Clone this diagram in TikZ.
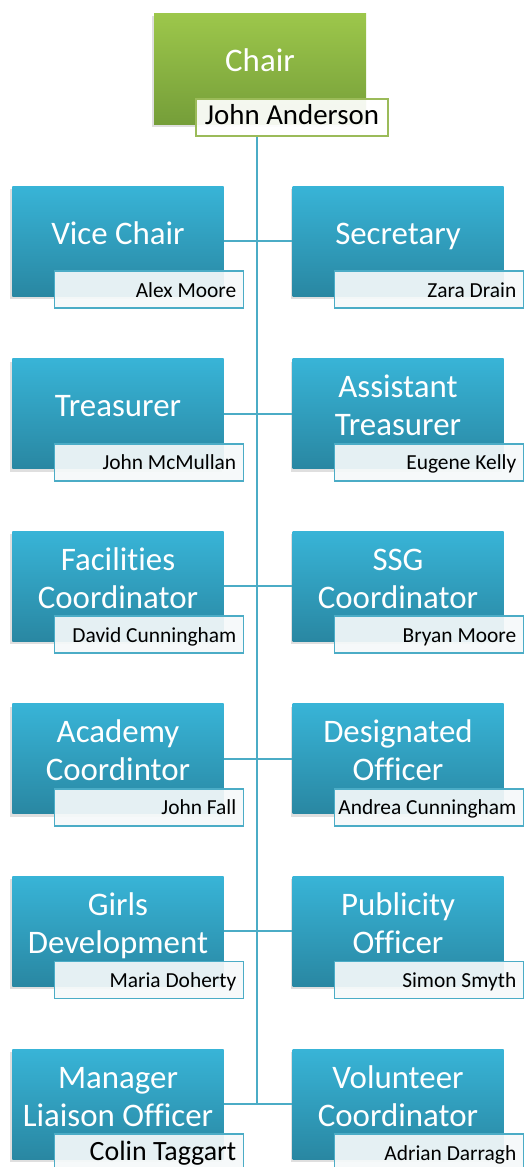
\documentclass[tikz,border=0pt]{standalone}
\usepackage{fontspec}
\setmainfont{Carlito}[Ligatures=CommonOff]
\usetikzlibrary{shadows}
\definecolor{bluetop}{RGB}{56,180,215}
\definecolor{bluebot}{RGB}{41,135,162}
\definecolor{greentop}{RGB}{157,199,75}
\definecolor{greenbot}{RGB}{117,158,57}
\definecolor{accentblue}{RGB}{75,172,198}
\definecolor{accentgreen}{RGB}{155,187,89}
\definecolor{namefill}{RGB}{245,249,250}
\tikzset{
  rolebox/.style={minimum width=211bp, minimum height=110bp, inner sep=0pt,
    top color=bluetop, bottom color=bluebot, draw=none,
    drop shadow={shadow xshift=-2bp, shadow yshift=-3bp, opacity=.25}},
  chairbox/.style={rolebox, minimum width=212bp, minimum height=111bp,
    top color=greentop, bottom color=greenbot},
  namebox/.style={minimum width=189bp, minimum height=37bp, inner sep=0pt,
    draw=accentblue, line width=1.8bp, fill=namefill, fill opacity=.92},
  chairname/.style={namebox, minimum width=192bp, draw=accentgreen, fill=white},
  titletext/.style={text=white, font=\fontsize{33}{38}\selectfont, inner sep=0pt},
  persontext/.style={text=black, font=\fontsize{21.5}{24}\selectfont, inner sep=0pt},
  link/.style={draw=accentblue, line width=2bp},
}
% one-line title
\newcommand\roleA[5]{%
  \node[rolebox] (#1) at ({#2+105.5},{#3+55}) {};
  \node[titletext, anchor=base] (#1t) at ({#2+105.5},{#3+58}) {#4};
  \node[namebox] (#1n) at ({#2+136.5},{#3+103.5}) {};
  \node[persontext, anchor=base east] (#1p) at ({#2+224},{#3+111}) {#5};
}
% two-line title
\newcommand\roleB[6]{%
  \node[rolebox] (#1) at ({#2+105.5},{#3+55}) {};
  \node[titletext, anchor=base] (#1t) at ({#2+105.5},{#3+39}) {#4};
  \node[titletext, anchor=base] (#1u) at ({#2+105.5},{#3+77}) {#5};
  \node[namebox] (#1n) at ({#2+136.5},{#3+103.5}) {};
  \node[persontext, anchor=base east] (#1p) at ({#2+224},{#3+111}) {#6};
}
\begin{document}
\begin{tikzpicture}[x=1bp, y=-1bp]
\useasboundingbox (0,0) rectangle (528,1167);
\clip (0,0) rectangle (528,1167);
% Chair
\node[chairbox] (chair) at (260,68.5) {};
\node[titletext, anchor=base] (chairt) at (260,71) {Chair};
\node[chairname] (chairn) at (292,117.5) {};
\node[persontext, anchor=base, font=\fontsize{29}{32}\selectfont] (chairp) at (292,124.5) {John Anderson};
% spine
\coordinate (spinetop) at (257,136.5);
\coordinate (spinebot) at (257,1104);
\draw[link] (spinetop) -- (spinebot);
% rows
\roleA{l1}{12.5}{186}{Vice Chair}{Alex Moore}
\roleA{r1}{292.5}{186}{Secretary}{Zara Drain}
\roleA{l2}{12.5}{358.6}{Treasurer}{John McMullan}
\roleB{r2}{292.5}{358.6}{Assistant}{Treasurer}{Eugene Kelly}
\roleB{l3}{12.5}{531.2}{Facilities}{Coordinator}{David Cunningham}
\roleB{r3}{292.5}{531.2}{SSG}{Coordinator}{Bryan Moore}
\roleB{l4}{12.5}{703.8}{Academy}{Coordintor}{John Fall}
\roleB{r4}{292.5}{703.8}{Designated}{Officer}{Andrea Cunningham}
\roleB{l5}{12.5}{876.4}{Girls}{Development}{Maria Doherty}
\roleB{r5}{292.5}{876.4}{Publicity}{Officer}{Simon Smyth}
\roleB{l6}{12.5}{1049}{Manager}{Liaison Officer}{\fontsize{28}{30}\selectfont Colin Taggart}
\roleB{r6}{292.5}{1049}{Volunteer}{Coordinator}{Adrian Darragh}
% horizontal links
\foreach \i in {1,...,6} {\draw[link] (l\i.east) -- (r\i.west);}
\end{tikzpicture}
\end{document}
